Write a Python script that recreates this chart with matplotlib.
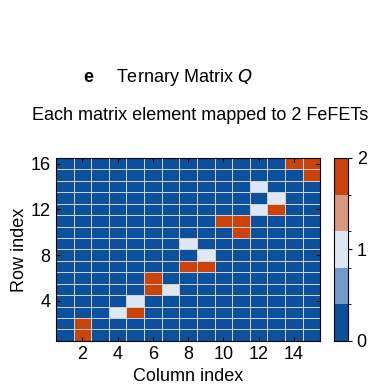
import matplotlib
matplotlib.use("Agg")
import matplotlib.pyplot as plt
import numpy as np
from matplotlib.colors import ListedColormap, BoundaryNorm

plt.rcParams["font.family"] = ["Liberation Sans", "DejaVu Sans"]

n_rows = 16
n_cols = 15

# (row, column, value) of the non-zero entries; everything else is 0
nonzero_rows = [16, 16, 15, 14, 13, 12, 12, 11, 11, 10, 9, 8, 7, 7, 6, 5, 5, 4, 3, 3, 2, 1]
nonzero_cols = [14, 15, 15, 12, 13, 12, 13, 10, 11, 11, 8, 9, 8, 9, 6, 6, 7, 5, 4, 5, 2, 2]
nonzero_vals = [2, 2, 2, 1, 1, 1, 2, 2, 2, 2, 1, 1, 2, 2, 2, 2, 1, 1, 1, 2, 2, 2]

cmap_colors = ["#0a509c", "#6f9acb", "#dde8f4", "#d8977e", "#cc4309"]

Q = np.zeros((n_rows, n_cols))
for r, c, v in zip(nonzero_rows, nonzero_cols, nonzero_vals):
    Q[r - 1, c - 1] = v

fig = plt.figure(figsize=(3.71, 3.90), dpi=100)
ax = fig.add_axes([0.151, 0.126, 0.712, 0.469])
cax = fig.add_axes([0.900, 0.126, 0.037, 0.469])

cmap = ListedColormap(cmap_colors)
norm = BoundaryNorm(np.linspace(0, 2, 6), cmap.N)
x_edges = np.arange(0.5, n_cols + 1)
y_edges = np.arange(0.5, n_rows + 1)
mesh = ax.pcolormesh(x_edges, y_edges, Q, cmap=cmap, norm=norm,
                     edgecolor="#d0d0d0", linewidth=0.45)

ax.set_xlim(0.5, n_cols + 0.5)
ax.set_ylim(0.5, n_rows + 0.5)
ax.set_xticks(range(2, n_cols + 1, 2))
ax.set_yticks(range(4, n_rows + 1, 4))
ax.tick_params(direction="in", top=True, right=True, labelsize=13,
               length=3, width=0.8, pad=4)
ax.set_xlabel("Column index", fontsize=13, labelpad=3)
ax.set_ylabel("Row index", fontsize=13, labelpad=2)

cb = fig.colorbar(mesh, cax=cax, ticks=[0, 1, 2])
cb.ax.tick_params(labelsize=13, length=3, width=0.8)
cb.outline.set_linewidth(0.8)

fig.text(0.224, 0.80, "e", fontsize=13, fontweight="bold", va="center")
fig.text(0.312, 0.80, "Ternary Matrix $\\mathit{Q}$", fontsize=13, va="center")
fig.text(0.085, 0.705, "Each matrix element mapped to 2 FeFETs",
         fontsize=13, va="center")

fig.savefig("out.png", dpi=100)
